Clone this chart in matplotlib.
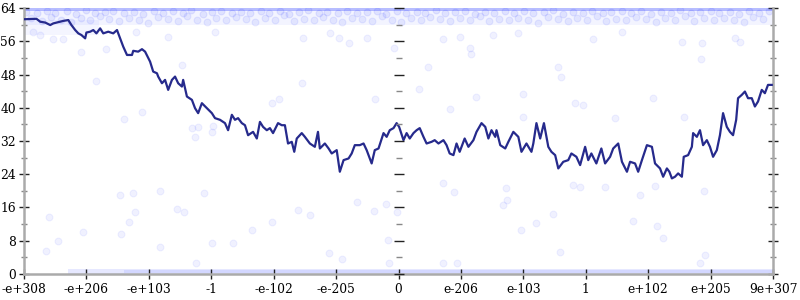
import matplotlib
matplotlib.use('Agg')
from matplotlib import pyplot as plt
from matplotlib.ticker import MultipleLocator

# x positions are in "tick slots" (0 = -max double, 6 = zero, 12 = +max double)
tick_labels = ['-e+308', '-e+206', '-e+103', '-1', '-e-102', '-e-205', '0',
               'e-206', 'e-103', '1', 'e+102', 'e+205', '9e+307']

line_x = [0.00, 0.20, 0.26, 0.34, 0.42, 0.47, 0.55, 0.63, 0.71, 0.76, 0.82, 0.87, 0.92, 0.98,
          1.00, 1.06, 1.11, 1.16, 1.22, 1.27, 1.35, 1.43, 1.49, 1.54, 1.59, 1.65, 1.73, 1.75,
          1.83, 1.89, 1.94, 2.02, 2.07, 2.13, 2.15, 2.21, 2.26, 2.31, 2.37, 2.42, 2.47, 2.53,
          2.55, 2.61, 2.69, 2.74, 2.79, 2.85, 2.93, 3.01, 3.06, 3.14, 3.22, 3.27, 3.33, 3.38,
          3.43, 3.49, 3.54, 3.59, 3.67, 3.73, 3.78, 3.83, 3.89, 3.94, 3.99, 4.07, 4.13, 4.18,
          4.23, 4.29, 4.33, 4.37, 4.45, 4.50, 4.58, 4.66, 4.71, 4.74, 4.82, 4.88, 4.93, 5.01,
          5.06, 5.12, 5.20, 5.25, 5.30, 5.38, 5.44, 5.49, 5.57, 5.62, 5.68, 5.76, 5.81, 5.86,
          5.92, 5.97, 6.01, 6.08, 6.13, 6.18, 6.24, 6.29, 6.34, 6.40, 6.45, 6.53, 6.58, 6.64,
          6.72, 6.77, 6.82, 6.88, 6.93, 6.98, 7.06, 7.12, 7.20, 7.25, 7.33, 7.39, 7.44, 7.49,
          7.55, 7.57, 7.63, 7.71, 7.76, 7.84, 7.92, 7.97, 8.05, 8.13, 8.16, 8.21, 8.27, 8.33,
          8.40, 8.45, 8.51, 8.56, 8.64, 8.72, 8.77, 8.85, 8.91, 8.99, 9.04, 9.09, 9.17, 9.25,
          9.31, 9.39, 9.44, 9.52, 9.58, 9.66, 9.71, 9.79, 9.84, 9.90, 9.98, 10.06, 10.11, 10.19,
          10.24, 10.30, 10.34, 10.38, 10.43, 10.48, 10.54, 10.57, 10.64, 10.70, 10.72, 10.78,
          10.83, 10.88, 10.94, 10.99, 11.04, 11.10, 11.15, 11.20, 11.26, 11.31, 11.36, 11.41,
          11.44, 11.50, 11.55, 11.60, 11.66, 11.71, 11.76, 11.82, 11.87, 11.92, 11.98]
line_y = [61.3, 61.4, 60.7, 60.5, 59.9, 60.3, 60.6, 60.9, 61.1, 59.9, 58.7, 57.9, 57.5, 56.7,
          58.1, 58.3, 58.7, 57.9, 59.1, 57.9, 58.3, 57.9, 58.7, 56.7, 54.7, 52.7, 52.7, 53.7,
          53.5, 54.1, 53.5, 51.1, 48.7, 48.3, 47.5, 45.9, 46.7, 44.3, 46.7, 47.5, 45.9, 45.1,
          46.7, 42.7, 41.9, 39.9, 38.7, 41.1, 39.9, 38.7, 37.5, 37.1, 36.3, 34.6, 38.3, 37.1,
          37.5, 36.3, 35.8, 33.4, 34.2, 32.6, 36.6, 35.4, 34.6, 35.1, 33.9, 36.3, 35.8, 35.8,
          31.4, 31.8, 29.4, 32.6, 33.9, 33.0, 31.4, 30.6, 34.2, 30.2, 31.4, 30.2, 29.0, 29.8,
          24.6, 27.4, 27.8, 29.0, 31.0, 31.0, 31.4, 29.8, 26.6, 29.8, 30.2, 33.9, 33.0, 34.6,
          35.1, 36.3, 35.4, 32.2, 33.9, 32.6, 33.9, 34.6, 35.1, 33.0, 31.4, 31.8, 32.2, 31.4,
          32.2, 31.0, 29.0, 28.6, 31.4, 29.4, 32.6, 30.6, 32.2, 34.2, 36.3, 35.4, 32.6, 34.6,
          33.0, 34.6, 31.0, 30.2, 31.8, 34.2, 33.0, 29.4, 31.4, 29.4, 31.4, 36.3, 32.6, 36.3,
          30.6, 29.4, 28.6, 25.4, 27.0, 27.4, 29.0, 28.2, 26.2, 30.6, 27.4, 29.0, 26.6, 30.2,
          26.6, 28.2, 30.2, 31.4, 27.0, 24.6, 27.0, 26.6, 24.6, 27.4, 31.0, 30.6, 26.6, 25.4,
          23.4, 25.4, 24.6, 23.0, 23.4, 24.2, 23.4, 28.2, 28.6, 30.6, 33.9, 33.0,
          34.6, 31.0, 32.2, 30.6, 28.2, 29.8, 33.4, 38.7, 35.4, 34.2, 33.4, 37.1,
          42.3, 43.1, 43.9, 42.3, 42.3, 40.3, 41.5, 44.3, 43.5, 45.5, 45.5]

# scattered individual samples away from the dense bands
pts_x = [0.40, 0.35, 0.55, 0.95, 1.54, 1.75, 2.18, 2.88, 1.78, 1.69, 1.55, 2.18, 2.45, 2.56,
         3.01, 3.35, 3.66, 2.76, 3.97, 4.39, 4.58, 5.33, 5.61, 5.80, 5.97, 5.83, 4.88, 5.10,
         6.72, 6.89, 7.73, 7.74, 7.68, 8.21, 7.96, 5.85, 6.71, 6.93, 8.80, 8.91, 9.31, 9.87,
         10.11, 10.90, 8.48, 9.76, 10.14, 10.24, 8.58, 10.91, 10.83, 1.89, 2.69, 2.79, 3.01,
         3.03, 2.74,
         4.47, 5.20, 4.46, 4.09, 3.97, 5.62, 5.92, 6.48, 6.33, 6.82, 7.15, 7.16, 7.24, 8.00,
         8.00, 6.72, 6.98, 7.52, 7.92, 5.49, 5.04, 4.90, 8.56, 8.61, 8.83, 8.95, 10.08, 9.47,
         10.57, 10.85, 10.87, 10.54, 11.47, 11.39, 9.12, 9.58, 0.92, 1.16, 1.31, 1.79, 1.60,
         2.53, 2.31, 3.06, 0.63, 0.47, 0.15, 0.26]
pts_y = [13.8, 5.5, 8.0, 10.0, 19.0, 19.6, 20.0, 19.6, 14.8, 12.5, 9.6, 6.4, 15.6, 14.8,
         7.4, 7.4, 10.6, 2.6, 12.6, 15.4, 14.2, 17.3, 15.2, 16.8, 15.0, 8.2, 5.1, 3.6,
         21.8, 19.8, 20.6, 17.8, 16.6, 12.2, 10.6, 2.6, 2.6, 2.6, 21.4, 20.9, 20.9, 19.0,
         21.2, 20.0, 14.4, 12.8, 11.6, 8.6, 5.4, 4.6, 2.6, 38.9, 35.1, 35.3, 34.2,
         35.6, 33.0,
         56.9, 55.6, 45.9, 42.1, 41.1, 42.1, 54.4, 49.7, 44.5, 39.6, 54.4, 52.9, 42.7, 43.2,
         37.8, 56.5, 57.1, 57.5, 58.1, 56.7, 56.9, 57.9, 49.9, 47.5, 41.2, 40.7, 42.4, 37.5,
         37.8, 51.7, 55.7, 55.9, 55.9, 56.7, 56.5, 58.3, 53.5, 46.4, 54.1, 58.2, 37.3,
         50.3, 57.1, 58.3, 56.5, 56.5, 58.3, 57.5]

# samples crowded near the top (63 bits and 61 bits)
top1_x = [0.04, 0.21, 0.37, 0.50, 0.69, 0.83, 0.99, 1.14, 1.30, 1.42, 1.61, 1.77, 1.90, 2.08,
          2.22, 2.39, 2.55, 2.68, 2.86, 3.01, 3.15, 3.33, 3.47, 3.62, 3.79, 3.93, 4.10, 4.24,
          4.41, 4.55, 4.72, 4.86, 5.03, 5.18, 5.34, 5.49, 5.66, 5.80, 5.97, 6.12, 6.29, 6.43,
          6.60, 6.75, 6.91, 7.07, 7.22, 7.39, 7.53, 7.70, 7.85, 8.01, 8.16, 8.33, 8.47, 8.64,
          8.79, 8.95, 9.10, 9.27, 9.41, 9.58, 9.73, 9.89, 10.05, 10.20, 10.37, 10.51, 10.68,
          10.83, 11.00, 11.14, 11.31, 11.46, 11.62, 11.78, 11.94]
top1_y = [63.1, 62.7, 63.4, 62.9, 63.2, 62.6, 63.5, 62.8, 63.0, 63.3, 62.7, 63.1, 62.5, 63.4,
          62.9, 63.2, 62.8, 63.5, 62.6, 63.0, 63.3, 62.9, 63.1, 62.7, 63.4, 62.8, 63.2, 62.6,
          63.0, 63.5, 62.9, 63.1, 62.7, 63.3, 62.8, 63.0, 63.4, 62.6, 63.2, 62.9, 63.1, 62.7,
          63.5, 62.8, 63.0, 63.3, 62.6, 63.1, 62.9, 63.4, 62.7, 63.2, 62.8, 63.0, 63.5, 62.6,
          63.1, 62.9, 63.3, 62.7, 63.0, 63.4, 62.8, 63.2, 62.6, 63.1, 62.9, 63.5, 62.7,
          63.0, 63.3, 62.8, 63.1, 62.6, 63.4, 62.9, 63.2]
top2_x = [0.12, 0.29, 0.44, 0.60, 0.76, 0.91, 1.06, 1.22, 1.36, 1.53, 1.69, 1.84, 1.99, 2.15,
          2.31, 2.46, 2.61, 2.77, 2.93, 3.08, 3.24, 3.40, 3.55, 3.70, 3.86, 4.02, 4.17, 4.33,
          4.48, 4.64, 4.79, 4.95, 5.10, 5.26, 5.42, 5.57, 5.73, 5.89, 6.04, 6.20, 6.36, 6.51,
          6.67, 6.83, 6.98, 7.14, 7.30, 7.45, 7.61, 7.77, 7.92, 8.08, 8.24, 8.39, 8.55, 8.71,
          8.86, 9.02, 9.18, 9.33, 9.49, 9.65, 9.80, 9.96, 10.12, 10.27, 10.43, 10.59, 10.74,
          10.90, 11.06, 11.21, 11.37, 11.53, 11.68, 11.84]
top2_y = [61.5, 60.9, 61.9, 61.2, 60.6, 61.7, 61.0, 62.1, 61.3, 60.8, 61.6, 61.1, 60.5, 61.8,
          61.4, 60.9, 62.0, 61.2, 60.7, 61.5, 61.0, 61.9, 61.3, 60.6, 61.7, 61.1, 62.2, 60.8,
          61.4, 61.0, 61.8, 61.2, 60.7, 61.6, 61.3, 60.9, 62.0, 61.1, 60.6, 61.5, 61.0, 61.8,
          61.3, 60.8, 61.7, 61.2, 62.1, 60.9, 61.4, 61.0, 61.6, 61.1, 60.5, 61.9, 61.3, 60.8,
          61.7, 61.2, 62.0, 60.9, 61.4, 61.0, 61.8, 61.3, 60.7, 61.6, 61.1, 62.1, 60.8,
          61.5, 61.0, 61.7, 61.2, 60.6, 61.9, 61.3]

# dense clusters of samples: (x start, x end, y low, y high, opacity)
band_x0 = [0.0, 0.0, 0.0, 0.7, 1.6]
band_x1 = [12.0, 1.2, 12.0, 12.0, 12.0]
band_lo = [60.0, 57.5, 63.4, 0.0, 0.15]
band_hi = [63.6, 61.0, 64.0, 1.3, 1.0]
band_alpha = [0.06, 0.05, 0.35, 0.12, 0.10]

plt.rcParams['font.family'] = 'DejaVu Serif'
fig = plt.figure(figsize=(8, 3), dpi=100)
ax = fig.add_axes([0.03, 0.0867, 0.93625, 0.8866])

for x0, x1, lo, hi, a in zip(band_x0, band_x1, band_lo, band_hi, band_alpha):
    ax.fill_between([x0, x1], [lo, lo], [hi, hi], color='#3344ff', alpha=a, lw=0)

dot = dict(s=24, facecolor='#3344ff', edgecolor='#3344ff', lw=0.8, zorder=2)
ax.scatter(top1_x, top1_y, alpha=0.10, **dot)
ax.scatter(top2_x, top2_y, alpha=0.09, **dot)
ax.scatter(pts_x, pts_y, alpha=0.07, **dot)
ax.plot(line_x, line_y, color='#262a8c', lw=1.6, zorder=3)

ax.set_xlim(0, 12)
ax.set_ylim(0, 64)
ax.set_xticks(range(len(tick_labels)))
ax.set_xticklabels(tick_labels)
ax.yaxis.set_major_locator(MultipleLocator(8))
ax.yaxis.set_minor_locator(MultipleLocator(4))

ax.spines['top'].set_visible(False)
for s in ['left', 'right', 'bottom']:
    ax.spines[s].set_color('#aaaaaa')
    ax.spines[s].set_linewidth(1.8)

ax.yaxis.set_ticks_position('both')
ax.tick_params(axis='both', which='major', direction='inout', length=7.5, width=1,
               color='#222222', labelsize=8.8, pad=2)
ax.tick_params(axis='y', which='minor', direction='inout', length=4, width=1,
               color='#888888')
ax.tick_params(axis='y', labelright=False)
ax.tick_params(axis='x', pad=3)

# middle axis at zero
mid = fig.add_axes(ax.get_position(), sharey=ax, frameon=False)
mid.set_xlim(0, 12)
mid.patch.set_visible(False)
mid.spines['left'].set_visible(True)
mid.spines['left'].set_position(('data', 6))
mid.spines['left'].set_color('#aaaaaa')
mid.spines['left'].set_linewidth(1.8)
mid.set_xticks([])
mid.tick_params(axis='y', which='major', direction='inout', length=7.5, width=1,
                color='#222222', labelleft=False)
mid.tick_params(axis='y', which='minor', direction='inout', length=4, width=1,
                color='#888888')

fig.savefig('out.png', dpi=100)
